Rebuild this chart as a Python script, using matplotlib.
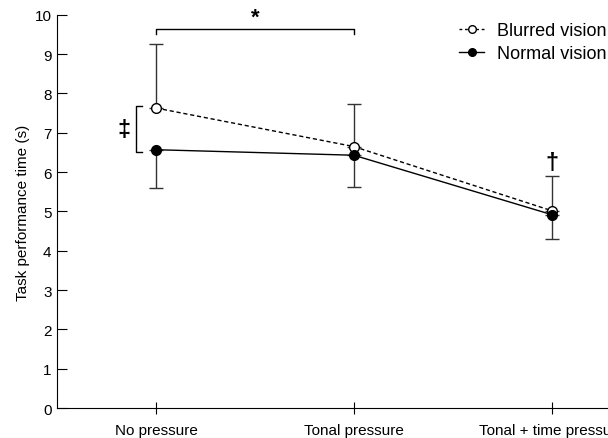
import numpy as np
import matplotlib.pyplot as plt
from matplotlib.lines import Line2D

plt.rcParams['font.family'] = ['Liberation Sans', 'DejaVu Sans']

# Conditions and mean task times (s)
conditions = ['No pressure', 'Tonal pressure', 'Tonal + time pressure']
blurred = [7.63, 6.65, 5.02]
normal = [6.57, 6.43, 4.92]

# Error bars: upward for blurred, downward for normal
blurred_err = [1.62, 1.08, 0.88]
normal_err = [0.97, 0.81, 0.62]

x = np.arange(len(conditions))

fig = plt.figure(figsize=(6.08, 4.39), dpi=100)
ax = fig.add_axes([0.094, 0.068, 0.976, 0.896])

ax.errorbar(x, blurred, yerr=[np.zeros(3), blurred_err], fmt='none',
            ecolor='#333333', elinewidth=1, capsize=5, capthick=1)
ax.errorbar(x, normal, yerr=[normal_err, np.zeros(3)], fmt='none',
            ecolor='#333333', elinewidth=1, capsize=5, capthick=1)

ax.plot(x, blurred, linestyle=(0, (3, 2)), color='black', lw=1,
        marker='o', markersize=7, markerfacecolor='white',
        markeredgecolor='black', zorder=3)
ax.plot(x, normal, linestyle='-', color='black', lw=1,
        marker='o', markersize=7, markerfacecolor='black',
        markeredgecolor='black', zorder=4)

# significance markers
ax.plot([0, 0, 1, 1], [9.5, 9.64, 9.64, 9.5], color='black', lw=1)
ax.text(0.5, 9.66, '*', ha='center', va='bottom', fontsize=16, fontweight='bold')
ax.plot([-0.07, -0.1, -0.1, -0.07], [7.67, 7.67, 6.51, 6.51], color='black', lw=1)
ax.text(-0.16, 7.08, '\u2021', ha='center', va='center', fontsize=17, fontweight='bold')
ax.text(2, 6.25, '\u2020', ha='center', va='center', fontsize=17, fontweight='bold')

ax.set_xlim(-0.5, 2.5)
ax.set_ylim(0, 10)
ax.set_yticks(range(0, 11))
ax.set_xticks(x)
ax.set_xticklabels(conditions, fontsize=11)
ax.tick_params(axis='y', direction='in', length=7, labelsize=11, pad=4)
ax.tick_params(axis='x', direction='inout', length=9, labelsize=11, pad=6)
ax.set_ylabel('Task performance time (s)', fontsize=11, labelpad=3)
for s in ['top', 'right']:
    ax.spines[s].set_visible(False)

handles = [
    Line2D([], [], linestyle=(0, (2, 2)), color='black', lw=1, marker='o',
           markersize=5.5, markerfacecolor='white', markeredgecolor='black'),
    Line2D([], [], linestyle='-', color='black', lw=1, marker='o',
           markersize=5.5, markerfacecolor='black', markeredgecolor='black'),
]
fig.legend(handles, ['Blurred vision', 'Normal vision'], loc='upper left',
           bbox_to_anchor=(0.7285, 0.985), frameon=False, fontsize=13,
           handlelength=1.4, handletextpad=0.72, labelspacing=0.35)

fig.savefig('out.png', dpi=100)
